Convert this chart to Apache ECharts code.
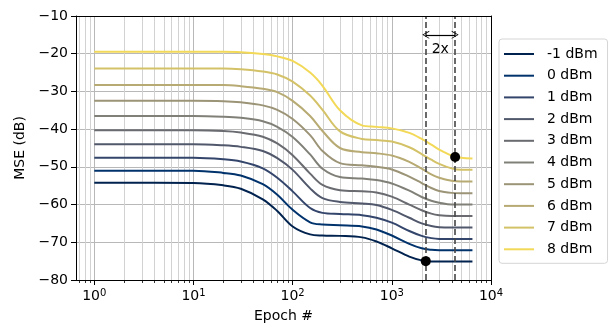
<!DOCTYPE html>
<html>
<head>
<meta charset="utf-8">
<script src="https://cdn.jsdelivr.net/npm/echarts@6/dist/echarts.min.js"></script>
<style>
  html, body { margin: 0; padding: 0; background: #fff; }
  #chart { width: 610px; height: 328px; }
</style>
</head>
<body>
<div id="chart"></div>
<script>
// epochs sampled along each curve
var epochs = [1, 10, 20, 30, 50, 70, 100, 150, 200, 300, 500, 700, 1000, 1500, 2000, 2500, 3000, 4000, 5000, 6500];

// MSE (dB) per launch power
var mse_m1 = [-54.2, -54.3, -54.9, -55.8, -58.6, -61.7, -65.8, -67.9, -68.2, -68.3, -68.7, -69.8, -71.6, -73.8, -74.8, -75.1, -75.1, -75.1, -75.1, -75.1];
var mse_0  = [-51.0, -51.0, -51.6, -52.3, -54.6, -57.4, -61.4, -64.7, -65.3, -65.5, -65.8, -66.6, -68.2, -70.4, -71.6, -72.0, -72.1, -72.1, -72.1, -72.1];
var mse_1  = [-47.6, -47.6, -48.0, -48.6, -50.4, -52.9, -56.5, -60.9, -62.2, -62.5, -62.8, -63.5, -64.8, -67.0, -68.3, -68.9, -69.1, -69.1, -69.1, -69.1];
var mse_2  = [-44.0, -44.0, -44.3, -44.7, -45.8, -47.7, -50.8, -55.7, -58.3, -59.3, -59.7, -60.1, -61.4, -63.5, -65.0, -65.7, -66.0, -66.1, -66.1, -66.1];
var mse_3  = [-40.3, -40.3, -40.5, -40.9, -42.0, -43.8, -46.9, -51.8, -54.8, -56.2, -56.5, -56.8, -57.9, -60.0, -61.5, -62.4, -62.8, -63.0, -63.0, -63.0];
var mse_4  = [-36.5, -36.5, -36.7, -37.0, -37.9, -39.4, -42.1, -46.7, -50.5, -52.7, -53.1, -53.5, -54.4, -56.3, -58.0, -59.0, -59.5, -60.0, -60.0, -60.0];
var mse_5  = [-32.5, -32.5, -32.6, -32.9, -33.7, -34.9, -37.3, -41.6, -45.8, -49.0, -49.6, -50.0, -50.7, -52.6, -54.3, -55.6, -56.4, -56.9, -57.0, -57.0];
var mse_6  = [-28.3, -28.3, -28.3, -28.6, -29.3, -30.2, -32.5, -36.5, -40.5, -45.0, -46.1, -46.4, -47.0, -48.7, -50.5, -52.0, -52.9, -53.7, -53.9, -53.9];
var mse_7  = [-23.9, -23.9, -23.9, -24.1, -24.7, -25.5, -27.4, -31.1, -34.9, -40.6, -42.6, -42.9, -43.3, -44.8, -46.6, -48.1, -49.2, -50.4, -50.8, -50.8];
var mse_8  = [-19.5, -19.5, -19.5, -19.6, -20.1, -20.7, -21.9, -25.0, -28.5, -35.0, -39.0, -39.4, -39.8, -41.0, -42.6, -44.1, -45.4, -47.0, -47.6, -47.8];

var powers = ['-1 dBm', '0 dBm', '1 dBm', '2 dBm', '3 dBm', '4 dBm', '5 dBm', '6 dBm', '7 dBm', '8 dBm'];
var curves = [mse_m1, mse_0, mse_1, mse_2, mse_3, mse_4, mse_5, mse_6, mse_7, mse_8];

// marked points (convergence epochs) and the 2x annotation
var markerEpochs = [2200, 4350];
var markerMSE = [-75.0, -47.4];
var arrowMSE = -15;
var ratioLabel = '2x';
var ratioLabelPos = [3080, -18.8];

var yTicks = [-80, -70, -60, -50, -40, -30, -20, -10];
var xMin = 0.654, xMax = 10000;

// cividis colours
var colors = ['#00224e', '#00326c', '#33456b', '#51586c', '#696b70', '#818078', '#9c9477', '#b7aa72', '#d4c268', '#f3d958'];

var minorTicks = [];
for (var e = -1; e < 4; e++) {
    for (var m = 2; m < 10; m++) {
        var v = m * Math.pow(10, e);
        if (v > xMin) minorTicks.push(v);
    }
}

var myChart = echarts.init(document.getElementById('chart'), null, { renderer: 'canvas' });

var seriesList = curves.map(function (vals, i) {
    return {
        name: powers[i],
        type: 'line',
        data: epochs.map(function (x, j) { return [x, vals[j]]; }),
        showSymbol: false,
        smooth: 0.35,
        lineStyle: { color: colors[i], width: 2 },
        itemStyle: { color: colors[i] },
        z: 3
    };
});

// minor x grid + minor ticks
seriesList.unshift({
    type: 'custom',
    silent: true,
    z: 1,
    data: minorTicks.map(function (v) { return [v, yTicks[0]]; }),
    encode: { x: 0, y: 1 },
    renderItem: function (params, api) {
        var x = Math.round(api.coord([api.value(0), yTicks[0]])[0]) + 0.5;
        var yb = api.coord([api.value(0), yTicks[0]])[1];
        var yt = api.coord([api.value(0), yTicks[yTicks.length - 1]])[1];
        return {
            type: 'group',
            children: [
                { type: 'line', shape: { x1: x, y1: yt, x2: x, y2: yb }, style: { stroke: '#d2d2d2', lineWidth: 1 } },
                { type: 'line', shape: { x1: x, y1: yb, x2: x, y2: yb + 3 }, style: { stroke: '#000', lineWidth: 0.8 } }
            ]
        };
    }
});

var chevron = 'path://M0,10 L5,0 L10,10 L9,10 L5,2 L1,10 Z';

seriesList.push({
    type: 'scatter',
    data: markerEpochs.map(function (x, i) { return [x, markerMSE[i]]; }),
    symbolSize: 10,
    itemStyle: { color: '#000', opacity: 1 },
    z: 5,
    markLine: {
        silent: true,
        symbol: 'none',
        label: { show: false },
        lineStyle: { color: '#454545', type: [6, 3], width: 1.6 },
        data: [
            { xAxis: markerEpochs[0] },
            { xAxis: markerEpochs[1] },
            [
                { coord: [markerEpochs[0], arrowMSE], symbol: chevron, symbolSize: [8, 7], lineStyle: { type: 'solid', color: '#000', width: 1.2 } },
                { coord: [markerEpochs[1], arrowMSE], symbol: chevron, symbolSize: [8, 7] }
            ]
        ]
    },
    markPoint: {
        silent: true,
        symbol: 'circle',
        symbolSize: 0,
        label: { show: true, position: 'inside', formatter: ratioLabel, color: '#000', fontSize: 14 },
        data: [{ coord: ratioLabelPos }]
    }
});

var spine = { show: true, lineStyle: { color: '#000', width: 1 } };

myChart.setOption({
    animation: false,
    textStyle: { fontFamily: 'DejaVu Sans' },
    grid: { left: 76, right: 119, top: 16, bottom: 42, show: false },
    legend: {
        orient: 'vertical',
        left: 499,
        top: 39,
        data: powers,
        icon: 'rect',
        itemWidth: 30,
        itemHeight: 2,
        itemGap: 7.7,
        padding: [8, 10, 7, 5],
        borderColor: '#d5d5d5',
        borderWidth: 1,
        borderRadius: 3,
        textStyle: { fontSize: 14, color: '#000', padding: [0, 0, 0, 8], lineHeight: 14, height: 14 }
    },
    xAxis: [{
        type: 'log',
        logBase: 10,
        min: xMin,
        max: xMax,
        name: 'Epoch #',
        nameLocation: 'middle',
        nameGap: 29,
        nameTextStyle: { fontSize: 14, color: '#000' },
        axisLine: spine,
        axisTick: { length: 5, lineStyle: { color: '#000' } },
        axisLabel: {
            color: '#000',
            margin: 8,
            showMinLabel: false,
            formatter: function (v) {
                var p = Math.log10(v);
                if (Math.abs(p - Math.round(p)) > 1e-6) return '';
                return '{b|10}{s|' + Math.round(p) + '}';
            },
            rich: {
                b: { fontSize: 14, color: '#000' },
                s: { fontSize: 10, color: '#000', padding: [0, 0, 7, 0] }
            }
        },
        splitLine: { show: true, lineStyle: { color: '#b8b8b8', width: 1 } }
    }, {
        type: 'log',
        logBase: 10,
        min: xMin,
        max: xMax,
        position: 'top',
        z: 6,
        axisLine: spine,
        axisTick: { show: false },
        axisLabel: { show: false },
        splitLine: { show: false }
    }],
    yAxis: [{
        type: 'value',
        min: yTicks[0],
        max: yTicks[yTicks.length - 1],
        interval: 10,
        name: 'MSE (dB)',
        nameLocation: 'middle',
        nameGap: 48,
        nameTextStyle: { fontSize: 14, color: '#000' },
        axisLine: spine,
        axisTick: { show: true, length: 5, lineStyle: { color: '#000' } },
        axisLabel: {
            color: '#000',
            fontSize: 14,
            margin: 8,
            formatter: function (v) { return v < 0 ? '\u2212' + Math.abs(v) : String(v); }
        },
        splitLine: { show: true, lineStyle: { color: '#b8b8b8', width: 1 } }
    }, {
        type: 'value',
        min: yTicks[0],
        max: yTicks[yTicks.length - 1],
        interval: 10,
        position: 'right',
        z: 6,
        axisLine: spine,
        axisTick: { show: false },
        axisLabel: { show: false },
        splitLine: { show: false }
    }],
    series: seriesList
});
</script>
</body>
</html>
